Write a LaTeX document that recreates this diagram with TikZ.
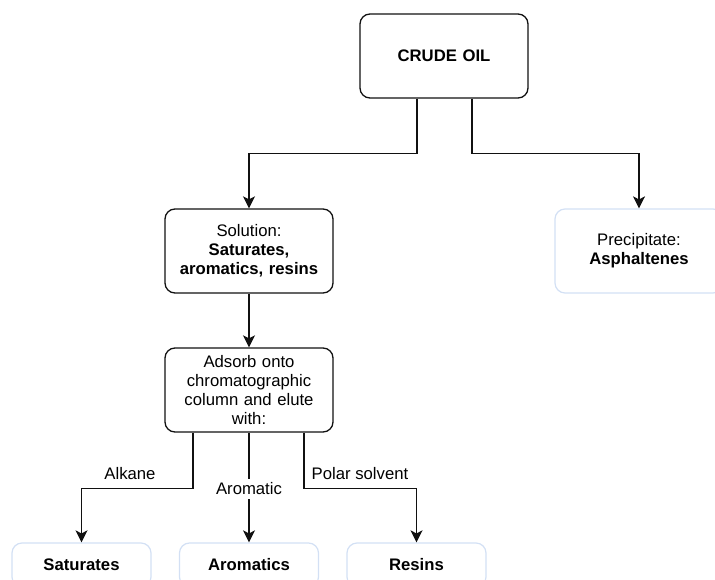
\documentclass[tikz,border=0pt]{standalone}
\usepackage{fontspec}
\setmainfont{Liberation Sans}
\usetikzlibrary{arrows.meta}
\definecolor{lightedge}{HTML}{D3E0F4}
\definecolor{lineblack}{HTML}{111111}
\tikzset{
  darkbox/.style={draw=lineblack, line width=1.3pt, rounded corners=10pt, minimum width=168pt, minimum height=84pt, align=center, text width=164pt, inner sep=0pt, font=\fontsize{16.7}{19}\selectfont},
  lightbox/.style={draw=lightedge, line width=1.2pt, rounded corners=10pt, minimum width=168pt, minimum height=84pt, align=center, text width=164pt, inner sep=0pt, font=\fontsize{16.7}{19}\selectfont},
  smallbox/.style={lightbox, minimum width=139pt, text width=135pt, minimum height=44pt},
  arr/.style={draw=lineblack, line width=1.4pt, -{Stealth[length=12pt, width=12pt, inset=3pt]}},
  lbl/.style={font=\fontsize{16.7}{19}\selectfont, inner sep=1pt},
}
\begin{document}
\begin{tikzpicture}[x=1pt, y=-1pt]
\useasboundingbox (0,0) rectangle (715,580);
\clip (0,0) rectangle (715,580);
\node[darkbox] (crude) at (444,56) {\textbf{CRUDE OIL}};
\node[darkbox] (sol) at (249,251) {Solution:\\\textbf{Saturates,}\\\textbf{aromatics, resins}};
\node[lightbox] (prec) at (639,251) {Precipitate:\\\textbf{Asphaltenes}};
\node[darkbox] (ads) at (249,390) {Adsorb onto\\chromatographic\\column and elute\\with:};
\node[smallbox] (sat) at (81.5,565) {\textbf{Saturates}};
\node[smallbox] (aro) at (249,565) {\textbf{Aromatics}};
\node[smallbox] (res) at (416.5,565) {\textbf{Resins}};

\draw[arr] ([xshift=-27pt]crude.south) -- ++(0,55) -| (sol.north);
\draw[arr] ([xshift=28pt]crude.south) -- ++(0,55) -| (prec.north);
\draw[arr] (sol.south) -- (ads.north);
\draw[arr] ([xshift=-56pt]ads.south) -- ++(0,56) -| (sat.north);
\draw[arr] (ads.south) -- (aro.north);
\draw[arr] ([xshift=55pt]ads.south) -- ++(0,56) -| (res.north);

\node[lbl] (alk) at (130,474) {Alkane};
\node[lbl, fill=white, inner ysep=4pt] (arolbl) at (249,489) {Aromatic};
\node[lbl] (pol) at (360,474) {Polar solvent};
\end{tikzpicture}
\end{document}
